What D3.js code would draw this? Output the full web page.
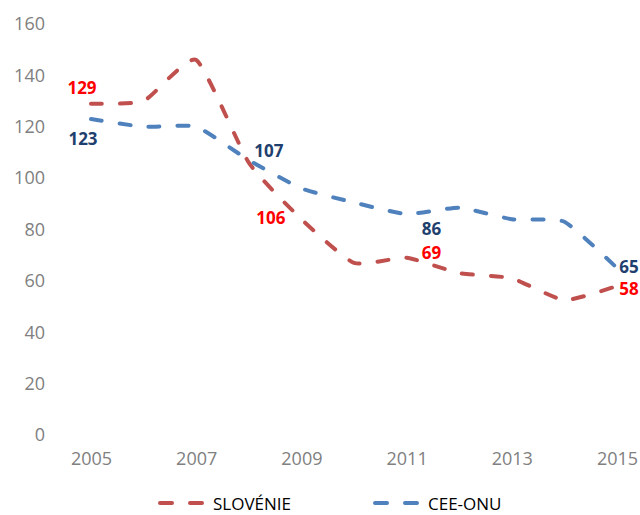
<!DOCTYPE html>
<html>
<head>
<meta charset="utf-8">
<script src="https://cdnjs.cloudflare.com/ajax/libs/d3/7.8.5/d3.min.js"></script>
<style>
  body { margin: 0; background: #fff; }
  svg { display: block; font-family: "Open Sans", "Noto Sans", sans-serif; }
</style>
</head>
<body>
<svg id="chart" width="640" height="515"></svg>
<script>
    // data
    var years = [2005, 2006, 2007, 2008, 2009, 2010, 2011, 2012, 2013, 2014, 2015];
    var slovenie = [129, 130, 146, 106, 84, 67, 69, 63, 61, 52.5, 58];
    var ceeOnu = [123, 120, 120, 107, 96, 90.5, 86, 88.5, 84, 83, 65];
    var yTicks = [0, 20, 40, 60, 80, 100, 120, 140, 160];
    var xTicks = [2005, 2007, 2009, 2011, 2013, 2015];

    // which points carry a value label
    var labelsSlo = [2005, 2008, 2011, 2015];
    var labelsCee = [2005, 2008, 2011, 2015];

    var series = [
      { name: 'SLOVÉNIE', values: slovenie, color: '#C0504D', labelColor: '#FF0000', labels: labelsSlo,
        offsets: { 2005: [-9, -16], 2008: [22, 55], 2011: [25, -5], 2015: [12, 2] } },
      { name: 'CEE-ONU', values: ceeOnu, color: '#4F81BD', labelColor: '#1F3F6E', labels: labelsCee,
        offsets: { 2005: [-8, 19], 2008: [20, -10], 2011: [25, 14], 2015: [12, -2] } }
    ];

    var svg = d3.select("#chart");

    var x = d3.scaleLinear().domain([2005, 2015]).range([91, 617]);
    var y = d3.scaleLinear().domain([0, 160]).range([435, 24]);

    // y axis labels
    var yAxis = svg.append("g")
      .attr("transform", "translate(45,0)")
      .call(d3.axisLeft(y).tickValues(yTicks).tickSize(0).tickPadding(0));
    yAxis.select(".domain").remove();
    yAxis.selectAll("text")
      .attr("fill", "#808080")
      .style("font-size", "18px")
      .style("font-family", "'Open Sans', sans-serif");

    // x axis labels
    var xAxis = svg.append("g")
      .attr("transform", "translate(0,452)")
      .call(d3.axisBottom(x).tickValues(xTicks).tickFormat(d3.format("d")).tickSize(0).tickPadding(0));
    xAxis.select(".domain").remove();
    xAxis.selectAll("text")
      .attr("fill", "#808080")
      .style("font-size", "18px")
      .style("font-family", "'Open Sans', sans-serif");

    var line = d3.line()
      .x(function(d, i) { return x(years[i]); })
      .y(function(d) { return y(d); })
      .curve(d3.curveCardinal.tension(0.5));

    series.forEach(function(s) {
      svg.append("path")
        .datum(s.values)
        .attr("d", line)
        .attr("fill", "none")
        .attr("stroke", s.color)
        .attr("stroke-width", 4)
        .attr("stroke-linecap", "round")
        .attr("stroke-dasharray", "11,18");
    });

    series.forEach(function(s) {
      svg.append("g").selectAll("text")
        .data(s.labels)
        .enter().append("text")
          .attr("x", function(yr) { return x(yr) + s.offsets[yr][0]; })
          .attr("y", function(yr) { return y(s.values[years.indexOf(yr)]) + s.offsets[yr][1]; })
          .attr("text-anchor", "middle")
          .attr("dominant-baseline", "central")
          .attr("fill", s.labelColor)
          .style("font-size", "17px")
          .style("font-weight", "bold")
          .text(function(yr) { return Math.round(s.values[years.indexOf(yr)]); });
    });

    // legend
    var legend = svg.append("g");
    var legendX = [160, 375];
    series.forEach(function(s, i) {
      var g = legend.append("g").attr("transform", "translate(" + legendX[i] + ",503)");
      g.append("line")
        .attr("x1", 0).attr("x2", 44).attr("y1", 0).attr("y2", 0)
        .attr("stroke", s.color)
        .attr("stroke-width", 4)
        .attr("stroke-linecap", "round")
        .attr("stroke-dasharray", "12,18");
      g.append("text")
        .attr("x", 53)
        .attr("y", 0)
        .attr("dominant-baseline", "central")
        .attr("fill", "#000")
        .style("font-size", "17px")
        .text(s.name);
    });
</script>
</body>
</html>
